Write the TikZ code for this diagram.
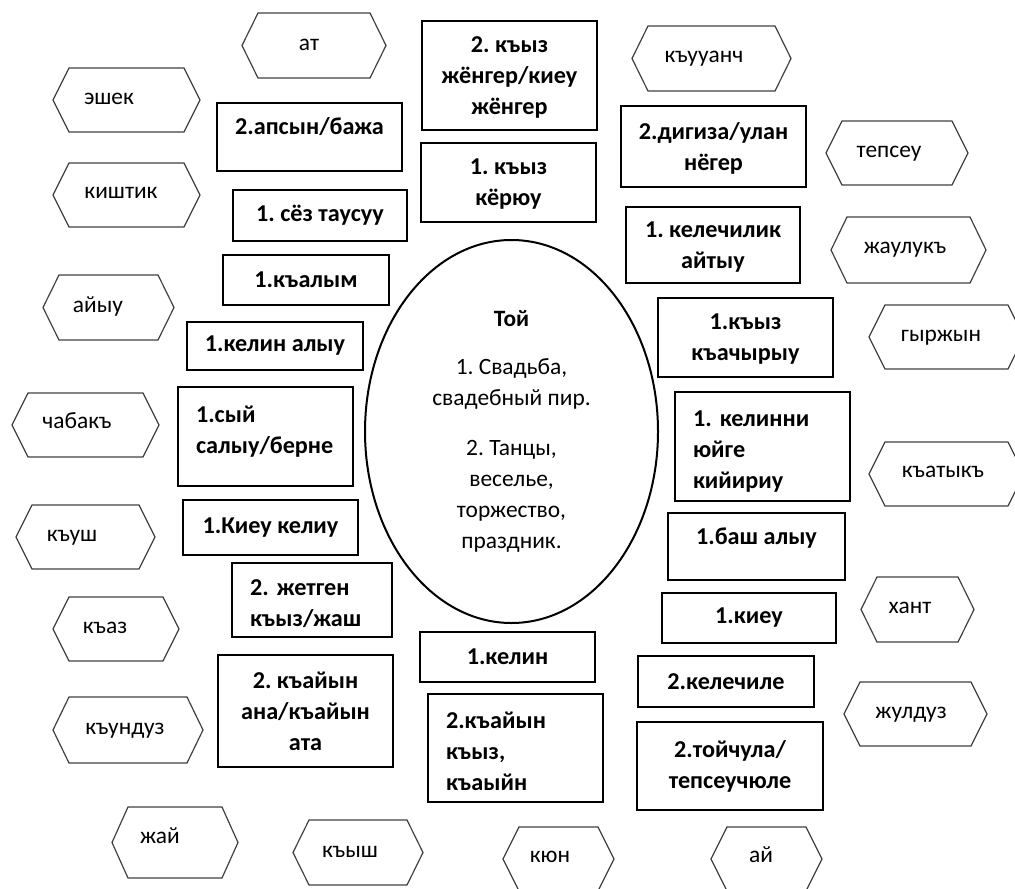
\documentclass[tikz,border=0pt]{standalone}
\usepackage{fontspec}
\setmainfont{Carlito}
\usepackage{tikz}
\usetikzlibrary{shapes.geometric}
\frenchspacing

\newcommand{\wordfont}{\fontsize{11.7pt}{15.5pt}\selectfont}
\newcommand{\boxfont}{\fontsize{12.1pt}{15.5pt}\selectfont\bfseries}
% hexagon from x1 to x2, y1 to y2 (picture units)
\newcommand{\hexat}[4]{%
  \draw[hexline] (#1,{(#3+#4)/2}) -- (#1+16,#3) -- (#2-16,#3) -- (#2,{(#3+#4)/2})
    -- (#2-16,#4) -- (#1+16,#4) -- cycle;}

\begin{document}
\begin{tikzpicture}[
  x=0.5pt, y=-0.5pt,
  font=\wordfont,
  wordbox/.style={draw=black, line width=1.3pt, font=\boxfont, align=center, inner sep=0pt},
  leftbox/.style={wordbox, align=left, inner xsep=9pt},
  boxsize/.style 2 args={minimum width=#1*0.5pt, minimum height=#2*0.5pt},
  lifted/.style={text height=9pt, text depth=11.5pt},
  firstline/.style={text height=#1},
  lastline/.style={text depth=#1},
  hexline/.style={draw=black!75, line width=0.6pt},
  hexword/.style={inner sep=1pt, text height=5.5pt, text depth=0pt}
]
  \useasboundingbox (0,0) rectangle (1015,888);

  % centre
  \node[draw=black, line width=1pt, ellipse, inner sep=0pt, align=center,
        minimum width=146.5pt, minimum height=191.5pt] (toj) at (511.5,431.5)
    {{\bfseries Той}\\[8.5pt]1. Свадьба,\\свадебный пир.\\[9.5pt]2. Танцы,\\веселье,\\торжество,\\праздник.};

  % left boxes
  \node[wordbox, boxsize={185}{68}, lifted] (apsyn) at (309.5,137) {2.апсын/бажа};
  \node[wordbox, boxsize={174}{51}] (sez) at (320,215.5) {1. сёз таусуу};
  \node[wordbox, boxsize={166}{50}] (kalym) at (306,280) {1.къалым};
  \node[wordbox, boxsize={176}{48}] (kelinaly) at (275,346) {1.келин алыу};
  \node[leftbox, boxsize={175}{99}, text width=69.5pt, firstline=3pt] (syj) at (265.5,436.5) {1.сый\\салыу/берне};
  \node[wordbox, boxsize={175}{55}] (kieukeliu) at (270.5,527.5) {1.Киеу келиу};
  \node[leftbox, boxsize={160}{74}, text width=62pt, firstline=11.9pt] (jetgen) at (312,600) {2. жетген\\къыз/жаш};
  \node[wordbox, boxsize={175}{112}, lastline=-1pt] (kajynana) at (305.5,711) {2. къайын\\ана/къайын\\ата};

  % middle boxes
  \node[wordbox, boxsize={175}{109}, lastline=-2.4pt] (kyzjenger) at (509.5,75.5) {2. къыз\\жёнгер/киеу\\жёнгер};
  \node[wordbox, boxsize={175}{79}, lastline=-0.4pt] (kyzkeru) at (508.5,182.5) {1. къыз\\кёрюу};
  \node[wordbox, boxsize={175}{50}] (kelin) at (507.5,657) {1.келин};
  \node[leftbox, boxsize={175}{108}, text width=69.5pt, firstline=12pt] (kajynkyz) at (515.5,748) {2.къайын\\къыз,\\къаыйн};

  % right boxes
  \node[wordbox, boxsize={185}{81}, lastline=-0.4pt] (digiza) at (713.5,146.5) {2.дигиза/улан\\нёгер};
  \node[wordbox, boxsize={174}{76}, lastline=-1.9pt] (kelechilik) at (713,245) {1. келечилик\\айтыу};
  \node[wordbox, boxsize={175}{79}, lastline=-1.4pt] (kyzkach) at (745.5,337.5) {1.къыз\\къачырыу};
  \node[leftbox, boxsize={175}{109}, text width=69.5pt, firstline=12.4pt] (kelinni) at (762.5,446.5) {1. келинни\\юйге\\кийириу};
  \node[wordbox, boxsize={177}{67}, lifted] (bashaly) at (756.5,546.5) {1.баш алыу};
  \node[wordbox, boxsize={174}{50}] (kieu) at (749,618) {1.киеу};
  \node[wordbox, boxsize={176}{51}] (kelechile) at (726,681.5) {2.келечиле};
  \node[wordbox, boxsize={186}{88}] (tojchula) at (730,766) {2.тойчула/\\тепсеучюле};

  % hexagons
  \hexat{242}{386}{13}{78}   \node[hexword] (w-at) at (309,45) {ат};
  \hexat{53}{200}{68}{132}   \node[hexword] (w-eshek) at (109,99) {эшек};
  \hexat{53}{200}{163}{227}  \node[hexword] (w-kishtik) at (121,193) {киштик};
  \hexat{43}{174}{275}{340}  \node[hexword] (w-ajyu) at (98,307) {айыу};
  \hexat{12}{159}{393}{457}  \node[hexword] (w-chabak) at (77,423) {чабакъ};
  \hexat{16}{155}{505}{569}  \node[hexword] (w-kush) at (72,536) {къуш};
  \hexat{53}{179}{597}{661}  \node[hexword] (w-kaz) at (105,628) {къаз};
  \hexat{53}{203}{697}{763}  \node[hexword] (w-kunduz) at (125,729) {къундуз};
  \hexat{112}{238}{807}{878} \node[hexword] (w-zhaj) at (160,838) {жай};
  \hexat{293}{423}{820}{885} \node[hexword] (w-kysh) at (350,852) {къыш};
  \hexat{503}{614}{827}{891} \node[hexword] (w-kun) at (550,857) {кюн};
  \hexat{711}{822}{827}{891} \node[hexword] (w-aj) at (761,857) {ай};
  \hexat{632}{791}{26}{91}   \node[hexword] (w-kuuanch) at (704,57) {къууанч};
  \hexat{826}{968}{121}{185} \node[hexword] (w-tepseu) at (889,152) {тепсеу};
  \hexat{831}{986}{217}{283} \node[hexword] (w-zhauluk) at (905,248) {жаулукъ};
  \hexat{869}{1024}{305}{369} \node[hexword] (w-gyrzhyn) at (941,336) {гыржын};
  \hexat{869}{1024}{442}{506} \node[hexword] (w-katyk) at (943,472) {къатыкъ};
  \hexat{861}{974}{577}{642} \node[hexword] (w-hant) at (910,608) {хант};
  \hexat{844}{987}{682}{746} \node[hexword] (w-zhuldyz) at (911,713) {жулдуз};
\end{tikzpicture}
\end{document}
